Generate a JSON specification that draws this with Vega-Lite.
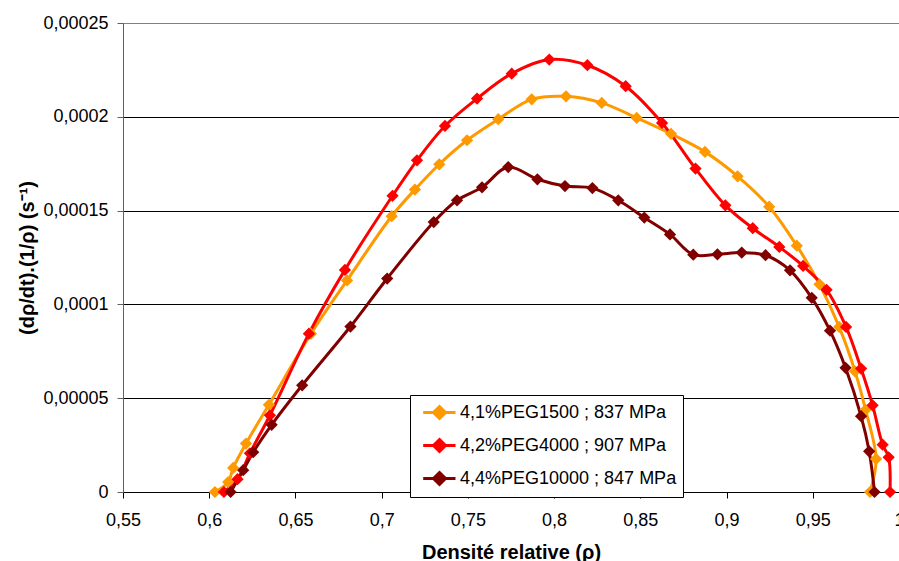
{
  "$schema": "https://vega.github.io/schema/vega-lite/v6.json",
  "width": 776,
  "height": 469,
  "autosize": {"type": "none"},
  "padding": {"left": 123, "top": 23, "right": 0, "bottom": 69},
  "background": "white",
  "config": {"view": {"stroke": "#808080", "strokeWidth": 1}, "font": "Liberation Sans"},
  "data": {"values": [
    {"s": "4,1%PEG1500 ; 837 MPa", "x": 0.6033, "y": 0},
    {"s": "4,1%PEG1500 ; 837 MPa", "x": 0.6110, "y": 0.0000053},
    {"s": "4,1%PEG1500 ; 837 MPa", "x": 0.6139, "y": 0.0000128},
    {"s": "4,1%PEG1500 ; 837 MPa", "x": 0.6213, "y": 0.0000258},
    {"s": "4,1%PEG1500 ; 837 MPa", "x": 0.6346, "y": 0.0000465},
    {"s": "4,1%PEG1500 ; 837 MPa", "x": 0.6590, "y": 0.0000844},
    {"s": "4,1%PEG1500 ; 837 MPa", "x": 0.6799, "y": 0.0001128},
    {"s": "4,1%PEG1500 ; 837 MPa", "x": 0.7058, "y": 0.000147},
    {"s": "4,1%PEG1500 ; 837 MPa", "x": 0.7193, "y": 0.0001612},
    {"s": "4,1%PEG1500 ; 837 MPa", "x": 0.7334, "y": 0.0001747},
    {"s": "4,1%PEG1500 ; 837 MPa", "x": 0.7495, "y": 0.0001875},
    {"s": "4,1%PEG1500 ; 837 MPa", "x": 0.7676, "y": 0.0001987},
    {"s": "4,1%PEG1500 ; 837 MPa", "x": 0.7870, "y": 0.0002093},
    {"s": "4,1%PEG1500 ; 837 MPa", "x": 0.8069, "y": 0.0002109},
    {"s": "4,1%PEG1500 ; 837 MPa", "x": 0.8276, "y": 0.0002074},
    {"s": "4,1%PEG1500 ; 837 MPa", "x": 0.8479, "y": 0.0001994},
    {"s": "4,1%PEG1500 ; 837 MPa", "x": 0.8678, "y": 0.0001909},
    {"s": "4,1%PEG1500 ; 837 MPa", "x": 0.8875, "y": 0.0001813},
    {"s": "4,1%PEG1500 ; 837 MPa", "x": 0.9064, "y": 0.0001683},
    {"s": "4,1%PEG1500 ; 837 MPa", "x": 0.9247, "y": 0.0001521},
    {"s": "4,1%PEG1500 ; 837 MPa", "x": 0.9407, "y": 0.0001313},
    {"s": "4,1%PEG1500 ; 837 MPa", "x": 0.9539, "y": 0.0001107},
    {"s": "4,1%PEG1500 ; 837 MPa", "x": 0.9653, "y": 0.000088},
    {"s": "4,1%PEG1500 ; 837 MPa", "x": 0.9745, "y": 0.0000643},
    {"s": "4,1%PEG1500 ; 837 MPa", "x": 0.9806, "y": 0.0000438},
    {"s": "4,1%PEG1500 ; 837 MPa", "x": 0.9867, "y": 0.0000176},
    {"s": "4,1%PEG1500 ; 837 MPa", "x": 0.9832, "y": 0},
    {"s": "4,2%PEG4000 ; 907 MPa", "x": 0.6085, "y": 0},
    {"s": "4,2%PEG4000 ; 907 MPa", "x": 0.6164, "y": 0.0000068},
    {"s": "4,2%PEG4000 ; 907 MPa", "x": 0.6236, "y": 0.0000206},
    {"s": "4,2%PEG4000 ; 907 MPa", "x": 0.6352, "y": 0.0000409},
    {"s": "4,2%PEG4000 ; 907 MPa", "x": 0.6578, "y": 0.0000844},
    {"s": "4,2%PEG4000 ; 907 MPa", "x": 0.6787, "y": 0.0001184},
    {"s": "4,2%PEG4000 ; 907 MPa", "x": 0.7063, "y": 0.0001579},
    {"s": "4,2%PEG4000 ; 907 MPa", "x": 0.7205, "y": 0.0001768},
    {"s": "4,2%PEG4000 ; 907 MPa", "x": 0.7367, "y": 0.0001951},
    {"s": "4,2%PEG4000 ; 907 MPa", "x": 0.7553, "y": 0.0002097},
    {"s": "4,2%PEG4000 ; 907 MPa", "x": 0.7754, "y": 0.000223},
    {"s": "4,2%PEG4000 ; 907 MPa", "x": 0.7972, "y": 0.0002305},
    {"s": "4,2%PEG4000 ; 907 MPa", "x": 0.8193, "y": 0.0002275},
    {"s": "4,2%PEG4000 ; 907 MPa", "x": 0.8415, "y": 0.0002163},
    {"s": "4,2%PEG4000 ; 907 MPa", "x": 0.8626, "y": 0.0001967},
    {"s": "4,2%PEG4000 ; 907 MPa", "x": 0.8820, "y": 0.0001724},
    {"s": "4,2%PEG4000 ; 907 MPa", "x": 0.8993, "y": 0.0001528},
    {"s": "4,2%PEG4000 ; 907 MPa", "x": 0.9152, "y": 0.0001406},
    {"s": "4,2%PEG4000 ; 907 MPa", "x": 0.9306, "y": 0.0001306},
    {"s": "4,2%PEG4000 ; 907 MPa", "x": 0.9444, "y": 0.0001205},
    {"s": "4,2%PEG4000 ; 907 MPa", "x": 0.9580, "y": 0.0001078},
    {"s": "4,2%PEG4000 ; 907 MPa", "x": 0.9693, "y": 0.000088},
    {"s": "4,2%PEG4000 ; 907 MPa", "x": 0.9780, "y": 0.0000658},
    {"s": "4,2%PEG4000 ; 907 MPa", "x": 0.9847, "y": 0.0000462},
    {"s": "4,2%PEG4000 ; 907 MPa", "x": 0.9905, "y": 0.0000252},
    {"s": "4,2%PEG4000 ; 907 MPa", "x": 0.9940, "y": 0.0000185},
    {"s": "4,2%PEG4000 ; 907 MPa", "x": 0.9948, "y": 0},
    {"s": "4,4%PEG10000 ; 847 MPa", "x": 0.6124, "y": 0},
    {"s": "4,4%PEG10000 ; 847 MPa", "x": 0.6197, "y": 0.0000116},
    {"s": "4,4%PEG10000 ; 847 MPa", "x": 0.6255, "y": 0.0000212},
    {"s": "4,4%PEG10000 ; 847 MPa", "x": 0.6362, "y": 0.0000358},
    {"s": "4,4%PEG10000 ; 847 MPa", "x": 0.6539, "y": 0.0000569},
    {"s": "4,4%PEG10000 ; 847 MPa", "x": 0.6819, "y": 0.0000882},
    {"s": "4,4%PEG10000 ; 847 MPa", "x": 0.7032, "y": 0.0001138},
    {"s": "4,4%PEG10000 ; 847 MPa", "x": 0.7302, "y": 0.0001439},
    {"s": "4,4%PEG10000 ; 847 MPa", "x": 0.7437, "y": 0.0001555},
    {"s": "4,4%PEG10000 ; 847 MPa", "x": 0.7582, "y": 0.0001624},
    {"s": "4,4%PEG10000 ; 847 MPa", "x": 0.7734, "y": 0.0001732},
    {"s": "4,4%PEG10000 ; 847 MPa", "x": 0.7903, "y": 0.0001667},
    {"s": "4,4%PEG10000 ; 847 MPa", "x": 0.8063, "y": 0.0001631},
    {"s": "4,4%PEG10000 ; 847 MPa", "x": 0.8222, "y": 0.000162},
    {"s": "4,4%PEG10000 ; 847 MPa", "x": 0.8372, "y": 0.0001555},
    {"s": "4,4%PEG10000 ; 847 MPa", "x": 0.8523, "y": 0.0001463},
    {"s": "4,4%PEG10000 ; 847 MPa", "x": 0.8672, "y": 0.0001373},
    {"s": "4,4%PEG10000 ; 847 MPa", "x": 0.8807, "y": 0.0001265},
    {"s": "4,4%PEG10000 ; 847 MPa", "x": 0.8947, "y": 0.0001267},
    {"s": "4,4%PEG10000 ; 847 MPa", "x": 0.9088, "y": 0.0001276},
    {"s": "4,4%PEG10000 ; 847 MPa", "x": 0.9226, "y": 0.0001262},
    {"s": "4,4%PEG10000 ; 847 MPa", "x": 0.9368, "y": 0.0001182},
    {"s": "4,4%PEG10000 ; 847 MPa", "x": 0.9494, "y": 0.0001035},
    {"s": "4,4%PEG10000 ; 847 MPa", "x": 0.9600, "y": 0.000086},
    {"s": "4,4%PEG10000 ; 847 MPa", "x": 0.9690, "y": 0.0000662},
    {"s": "4,4%PEG10000 ; 847 MPa", "x": 0.9780, "y": 0.0000404},
    {"s": "4,4%PEG10000 ; 847 MPa", "x": 0.9827, "y": 0.0000217},
    {"s": "4,4%PEG10000 ; 847 MPa", "x": 0.9858, "y": 0}
  ]},
  "encoding": {
    "x": {
      "field": "x", "type": "quantitative",
      "scale": {"domain": [0.55, 1], "nice": false, "zero": false},
      "axis": {
        "values": [0.55, 0.6, 0.65, 0.7, 0.75, 0.8, 0.85, 0.9, 0.95, 1],
        "labelExpr": "replace(format(datum.value, '.2~f'), '.', ',')",
        "grid": false,
        "domainColor": "#000000",
        "tickColor": "#000000",
        "tickSize": 6,
        "labelFontSize": 18,
        "labelColor": "#000000",
        "labelBaseline": "alphabetic",
        "labelPadding": 27,
        "labelFlush": false,
        "labelOverlap": false,
        "title": "Densité relative (ρ)",
        "titleFontSize": 20,
        "titleFontWeight": "bold",
        "titleColor": "#000000",
        "titleBaseline": "alphabetic",
        "titleY": 66
      }
    },
    "y": {
      "field": "y", "type": "quantitative",
      "scale": {"domain": [0, 0.00025], "nice": false},
      "axis": {
        "values": [0, 0.00005, 0.0001, 0.00015, 0.0002, 0.00025],
        "labelExpr": "replace(format(datum.value, '.5~f'), '.', ',')",
        "grid": true,
        "gridColor": {"condition": {"test": "datum.value > 0.00024", "value": "#808080"}, "value": "#000000"},
        "gridWidth": 1,
        "domainColor": "#606060",
        "tickColor": "#606060",
        "tickSize": 6,
        "labelFontSize": 18,
        "labelColor": "#000000",
        "labelPadding": 9,
        "labelOverlap": false,
        "title": "(dρ/dt).(1/ρ) (s⁻¹)",
        "titleFontSize": 20,
        "titleFontWeight": "bold",
        "titleColor": "#000000",
        "titleAngle": -90,
        "titleBaseline": "alphabetic",
        "titleX": -90
      }
    },
    "color": {
      "field": "s", "type": "nominal",
      "scale": {
        "domain": ["4,1%PEG1500 ; 837 MPa", "4,2%PEG4000 ; 907 MPa", "4,4%PEG10000 ; 847 MPa"],
        "range": ["#FF9900", "#FF0000", "#800000"]
      },
      "legend": {
        "orient": "none",
        "legendX": 287,
        "legendY": 372,
        "title": null,
        "strokeColor": "#000000",
        "fillColor": "#ffffff",
        "padding": 6,
        "cornerRadius": 0,
        "labelFontSize": 18,
        "labelColor": "#000000",
        "labelLimit": 400,
        "symbolType": "M-0.43,0H2.8M1.2,-0.6L1.8,0L1.2,0.6L0.6,0Z",
        "symbolSize": 400,
        "symbolStrokeWidth": 3,
        "symbolOpacity": 1,
        "rowPadding": 8,
        "labelOffset": 21,
        "encode": {
          "symbols": {
            "update": {
              "fill": {"scale": "color", "field": "value"},
              "stroke": {"scale": "color", "field": "value"}
            }
          }
        }
      }
    },
    "order": {"value": null}
  },
  "layer": [
    {"mark": {"type": "line", "interpolate": "catmull-rom", "strokeWidth": 3}},
    {"mark": {"type": "point", "shape": "diamond", "filled": true, "size": 150, "opacity": 1}}
  ]
}
